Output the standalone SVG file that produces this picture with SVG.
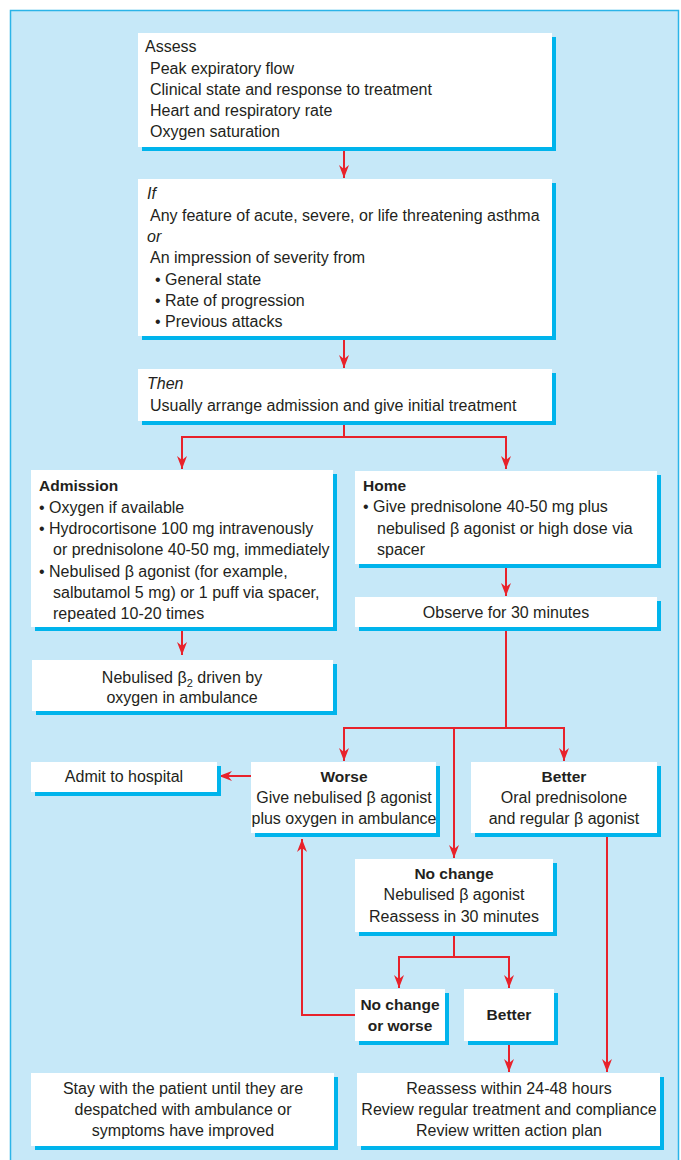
<svg xmlns="http://www.w3.org/2000/svg" width="681" height="1160" viewBox="0 0 681 1160">
<style>
.bg{fill:#c6e8f8;stroke:#2bb4e8;stroke-width:1.5}
.sh{fill:#00b4ec}
.box{fill:#ffffff}
.t{font-family:'Liberation Sans',Arial,sans-serif;font-size:16px;fill:#231f20}
.b{font-weight:bold;font-size:15.5px}
.i{font-style:italic}
.c{text-anchor:middle}
.ln{stroke:#e8222b;stroke-width:2;fill:none}
</style>
<defs>
<marker id="ah" viewBox="0 0 13 10" refX="13" refY="5" markerWidth="13" markerHeight="10" markerUnits="userSpaceOnUse" orient="auto">
<path d="M0,0 L13,5 L0,10 L4,5 z" fill="#e8222b"/>
</marker>
</defs>
<g id="background">
<rect class="bg" x="10.5" y="10.5" width="668" height="1165"/>
</g>
<g id="connectors">
<path class="ln" d="M344,147 V178" marker-end="url(#ah)"/>
<path class="ln" d="M344,336 V368" marker-end="url(#ah)"/>
<path class="ln" d="M344,421 V437"/>
<path class="ln" d="M344,437 H182 V469" marker-end="url(#ah)"/>
<path class="ln" d="M344,437 H506 V469" marker-end="url(#ah)"/>
<path class="ln" d="M182,627 V655" marker-end="url(#ah)"/>
<path class="ln" d="M506,564 V596" marker-end="url(#ah)"/>
<path class="ln" d="M506,627 V728"/>
<path class="ln" d="M506,728 H344 V761" marker-end="url(#ah)"/>
<path class="ln" d="M506,728 H564 V761" marker-end="url(#ah)"/>
<path class="ln" d="M454,728 V858" marker-end="url(#ah)"/>
<path class="ln" d="M251,776 H219" marker-end="url(#ah)"/>
<path class="ln" d="M454,932 V957"/>
<path class="ln" d="M454,957 H399 V988" marker-end="url(#ah)"/>
<path class="ln" d="M454,957 H509 V988" marker-end="url(#ah)"/>
<path class="ln" d="M355,1015 H302 V839" marker-end="url(#ah)"/>
<path class="ln" d="M509,1041 V1072" marker-end="url(#ah)"/>
<path class="ln" d="M607,833 V1072" marker-end="url(#ah)"/>
</g>
<g id="assess">
<rect class="sh" x="142" y="37" width="414" height="114"/>
<rect class="box" x="138" y="33" width="414" height="114"/>
<text class="t" x="145" y="52">Assess</text>
<text class="t" x="150" y="74">Peak expiratory flow</text>
<text class="t" x="150" y="95">Clinical state and response to treatment</text>
<text class="t" x="150" y="116">Heart and respiratory rate</text>
<text class="t" x="150" y="137">Oxygen saturation</text>
</g>
<g id="if">
<rect class="sh" x="142" y="183" width="414" height="157"/>
<rect class="box" x="138" y="179" width="414" height="157"/>
<text class="t i" x="147" y="199">If</text>
<text class="t" x="150" y="221">Any feature of acute, severe, or life threatening asthma</text>
<text class="t i" x="147" y="242">or</text>
<text class="t" x="150" y="263">An impression of severity from</text>
<text class="t" x="155" y="285">• General state</text>
<text class="t" x="155" y="306">• Rate of progression</text>
<text class="t" x="155" y="327">• Previous attacks</text>
</g>
<g id="then">
<rect class="sh" x="142" y="373" width="414" height="52"/>
<rect class="box" x="138" y="369" width="414" height="52"/>
<text class="t i" x="147" y="389">Then</text>
<text class="t" x="150" y="411">Usually arrange admission and give initial treatment</text>
</g>
<g id="admission">
<rect class="sh" x="35" y="474" width="302" height="157"/>
<rect class="box" x="31" y="470" width="302" height="157"/>
<text class="t b" x="39" y="491">Admission</text>
<text class="t" x="39" y="513">• Oxygen if available</text>
<text class="t" x="39" y="534">• Hydrocortisone 100 mg intravenously</text>
<text class="t" x="53" y="555">or prednisolone 40-50 mg, immediately</text>
<text class="t" x="39" y="577">• Nebulised β agonist (for example,</text>
<text class="t" x="53" y="598">salbutamol 5 mg) or 1 puff via spacer,</text>
<text class="t" x="53" y="619">repeated 10-20 times</text>
</g>
<g id="home">
<rect class="sh" x="359" y="475" width="302" height="93"/>
<rect class="box" x="355" y="471" width="302" height="93"/>
<text class="t b" x="363" y="491">Home</text>
<text class="t" x="363" y="512">• Give prednisolone 40-50 mg plus</text>
<text class="t" x="377" y="534">nebulised β agonist or high dose via</text>
<text class="t" x="377" y="555">spacer</text>
</g>
<g id="nebulised">
<rect class="sh" x="36" y="664" width="301" height="51"/>
<rect class="box" x="32" y="660" width="301" height="51"/>
<text class="t c" x="182" y="683">Nebulised β<tspan dy="4" font-size="11">2</tspan><tspan dy="-4"> driven by</tspan></text>
<text class="t c" x="182" y="703">oxygen in ambulance</text>
</g>
<g id="observe">
<rect class="sh" x="359" y="601" width="302" height="30"/>
<rect class="box" x="355" y="597" width="302" height="30"/>
<text class="t c" x="506" y="618">Observe for 30 minutes</text>
</g>
<g id="admit">
<rect class="sh" x="35" y="766" width="186" height="30"/>
<rect class="box" x="31" y="762" width="186" height="30"/>
<text class="t c" x="124" y="782">Admit to hospital</text>
</g>
<g id="worse">
<rect class="sh" x="255" y="766" width="185" height="71"/>
<rect class="box" x="251" y="762" width="185" height="71"/>
<text class="t b c" x="344" y="782">Worse</text>
<text class="t c" x="344" y="803">Give nebulised β agonist</text>
<text class="t c" x="344" y="824">plus oxygen in ambulance</text>
</g>
<g id="better">
<rect class="sh" x="475" y="766" width="186" height="71"/>
<rect class="box" x="471" y="762" width="186" height="71"/>
<text class="t b c" x="564" y="782">Better</text>
<text class="t c" x="564" y="803">Oral prednisolone</text>
<text class="t c" x="564" y="824">and regular β agonist</text>
</g>
<g id="nochange">
<rect class="sh" x="359" y="863" width="198" height="73"/>
<rect class="box" x="355" y="859" width="198" height="73"/>
<text class="t b c" x="454" y="879">No change</text>
<text class="t c" x="454" y="900">Nebulised β agonist</text>
<text class="t c" x="454" y="922">Reassess in 30 minutes</text>
</g>
<g id="nochange-worse">
<rect class="sh" x="359" y="993" width="90" height="52"/>
<rect class="box" x="355" y="989" width="90" height="52"/>
<text class="t b c" x="400" y="1010">No change</text>
<text class="t b c" x="400" y="1031">or worse</text>
</g>
<g id="better2">
<rect class="sh" x="468" y="993" width="90" height="52"/>
<rect class="box" x="464" y="989" width="90" height="52"/>
<text class="t b c" x="509" y="1020">Better</text>
</g>
<g id="stay">
<rect class="sh" x="35" y="1077" width="303" height="73"/>
<rect class="box" x="31" y="1073" width="303" height="73"/>
<text class="t c" x="183" y="1094">Stay with the patient until they are</text>
<text class="t c" x="183" y="1115">despatched with ambulance or</text>
<text class="t c" x="183" y="1136">symptoms have improved</text>
</g>
<g id="reassess">
<rect class="sh" x="361" y="1077" width="303" height="73"/>
<rect class="box" x="357" y="1073" width="303" height="73"/>
<text class="t c" x="509" y="1094">Reassess within 24-48 hours</text>
<text class="t c" x="509" y="1115">Review regular treatment and compliance</text>
<text class="t c" x="509" y="1136">Review written action plan</text>
</g>
</svg>
